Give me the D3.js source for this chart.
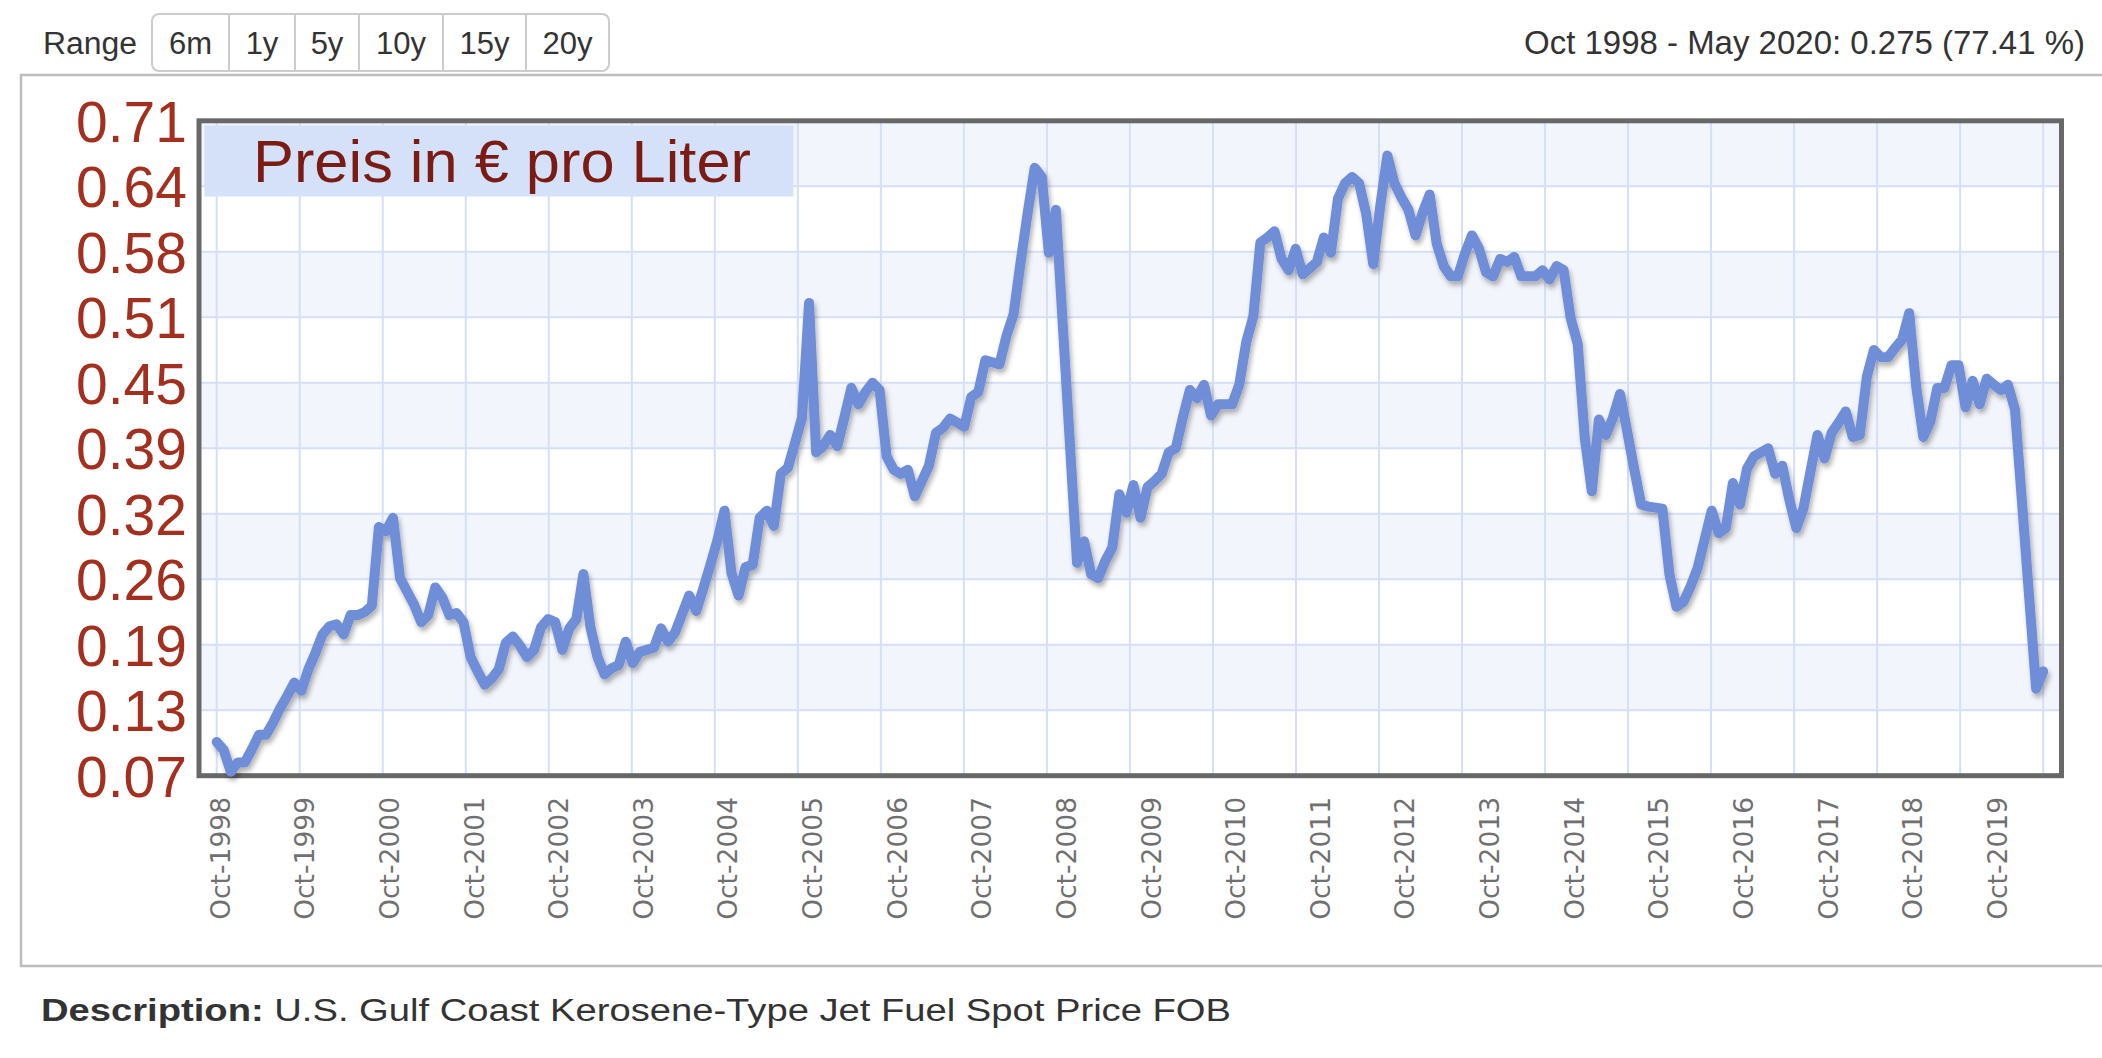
<!DOCTYPE html>
<html>
<head>
<meta charset="utf-8">
<script src="https://cdn.jsdelivr.net/npm/d3@7"></script>
<style>
  html, body { margin: 0; padding: 0; background: #ffffff; }
  svg { display: block; }
</style>
</head>
<body>
<svg id="chart" width="2102" height="1058"></svg>
<script>
// ---------------- DATA ----------------
// Monthly price in EUR per litre, Oct 1998 .. May 2020 (index 0 = Oct 1998)
const prices = [
  0.103, 0.095, 0.074, 0.083, 0.083, 0.096, 0.110, 0.110, 0.122, 0.136,
  0.148, 0.161, 0.153, 0.174, 0.190, 0.208, 0.216, 0.218, 0.208, 0.227,
  0.227, 0.230, 0.236, 0.313, 0.309, 0.322, 0.263, 0.250, 0.237, 0.220,
  0.227, 0.254, 0.244, 0.227, 0.229, 0.220, 0.186, 0.172, 0.159, 0.165,
  0.174, 0.200, 0.206, 0.197, 0.186, 0.193, 0.215, 0.223, 0.220, 0.193,
  0.214, 0.223, 0.267, 0.215, 0.186, 0.169, 0.175, 0.178, 0.201, 0.180,
  0.191, 0.193, 0.195, 0.214, 0.201, 0.210, 0.228, 0.246, 0.231, 0.253,
  0.276, 0.300, 0.329, 0.268, 0.246, 0.274, 0.276, 0.322, 0.329, 0.314,
  0.365, 0.371, 0.395, 0.420, 0.532, 0.386, 0.392, 0.403, 0.392, 0.420,
  0.449, 0.433, 0.445, 0.454, 0.447, 0.382, 0.369, 0.365, 0.369, 0.343,
  0.358, 0.373, 0.405, 0.410, 0.419, 0.415, 0.411, 0.440, 0.445, 0.476,
  0.474, 0.472, 0.500, 0.521, 0.572, 0.620, 0.664, 0.655, 0.581, 0.623,
  0.508, 0.393, 0.278, 0.299, 0.267, 0.263, 0.280, 0.293, 0.345, 0.327,
  0.354, 0.322, 0.352, 0.358, 0.365, 0.386, 0.390, 0.420, 0.447, 0.439,
  0.452, 0.422, 0.433, 0.433, 0.433, 0.452, 0.494, 0.519, 0.591, 0.596,
  0.602, 0.575, 0.564, 0.585, 0.560, 0.566, 0.572, 0.596, 0.581, 0.634,
  0.649, 0.655, 0.649, 0.619, 0.570, 0.627, 0.676, 0.649, 0.635, 0.623,
  0.598, 0.620, 0.638, 0.590, 0.568, 0.558, 0.558, 0.580, 0.598, 0.585,
  0.562, 0.558, 0.575, 0.572, 0.577, 0.558, 0.558, 0.558, 0.564, 0.555,
  0.568, 0.564, 0.517, 0.492, 0.400, 0.348, 0.418, 0.403, 0.420, 0.443,
  0.407, 0.370, 0.335, 0.333, 0.332, 0.331, 0.267, 0.235, 0.240, 0.255,
  0.273, 0.301, 0.329, 0.307, 0.312, 0.356, 0.335, 0.370, 0.382, 0.386,
  0.390, 0.365, 0.373, 0.340, 0.312, 0.331, 0.367, 0.403, 0.380, 0.405,
  0.415, 0.426, 0.401, 0.403, 0.460, 0.486, 0.479, 0.479, 0.488, 0.496,
  0.522, 0.450, 0.401, 0.416, 0.449, 0.449, 0.471, 0.471, 0.430, 0.456,
  0.433, 0.458, 0.452, 0.447, 0.452, 0.428, 0.337, 0.246, 0.155, 0.172
];

const xTickLabels = [
  "Oct-1998","Oct-1999","Oct-2000","Oct-2001","Oct-2002","Oct-2003",
  "Oct-2004","Oct-2005","Oct-2006","Oct-2007","Oct-2008","Oct-2009",
  "Oct-2010","Oct-2011","Oct-2012","Oct-2013","Oct-2014","Oct-2015",
  "Oct-2016","Oct-2017","Oct-2018","Oct-2019"
];
const yTickValues = [0.07, 0.134, 0.198, 0.262, 0.326, 0.39, 0.454, 0.518, 0.582, 0.646, 0.71];
const yTickLabels = ["0.07","0.13","0.19","0.26","0.32","0.39","0.45","0.51","0.58","0.64","0.71"];

const rangeButtons = ["6m","1y","5y","10y","15y","20y"];
const rangeLabel = "Range";
const headerText = "Oct 1998 - May 2020: 0.275 (77.41 %)";
const titleText = "Preis in € pro Liter";
const descLabel = "Description:";
const descText = "U.S. Gulf Coast Kerosene-Type Jet Fuel Spot Price FOB";

// ---------------- DRAWING ----------------
const svg = d3.select("#chart");
const FONT = "'Liberation Sans', Arial, Helvetica, sans-serif";

const plot = { left: 199, right: 2061.5, top: 120.8, bottom: 775.7 };
const x = d3.scaleLinear().domain([-2.51, 261.6]).range([plot.left, plot.right]);
const y = d3.scaleLinear().domain([0.07, 0.71]).range([plot.bottom, plot.top]);

const defs = svg.append("defs");
const f = defs.append("filter").attr("id", "shadow")
  .attr("x", "-5%").attr("y", "-10%").attr("width", "110%").attr("height", "130%");
f.append("feDropShadow").attr("dx", 2).attr("dy", 4).attr("stdDeviation", 2.5)
  .attr("flood-color", "#000").attr("flood-opacity", 0.3);

// ----- header -----
svg.append("text").text(rangeLabel)
  .attr("x", 43).attr("y", 54)
  .attr("font-family", FONT).attr("font-size", 31).attr("fill", "#333")
  .attr("textLength", 94).attr("lengthAdjust", "spacingAndGlyphs");

const btnEdges = [152, 229, 295, 359, 443, 526, 609];
svg.append("rect").attr("x", btnEdges[0]).attr("y", 14)
  .attr("width", btnEdges[6] - btnEdges[0]).attr("height", 57)
  .attr("rx", 7).attr("fill", "#fff").attr("stroke", "#cccccc").attr("stroke-width", 2);
rangeButtons.forEach((b, i) => {
  if (i > 0) {
    svg.append("line").attr("x1", btnEdges[i]).attr("x2", btnEdges[i])
      .attr("y1", 14).attr("y2", 71).attr("stroke", "#cccccc").attr("stroke-width", 2);
  }
  svg.append("text").text(b)
    .attr("x", (btnEdges[i] + btnEdges[i + 1]) / 2).attr("y", 54)
    .attr("text-anchor", "middle")
    .attr("font-family", FONT).attr("font-size", 31).attr("fill", "#333");
});

svg.append("text").text(headerText)
  .attr("x", 2085).attr("y", 54).attr("text-anchor", "end")
  .attr("font-family", FONT).attr("font-size", 34).attr("fill", "#333")
  .attr("textLength", 561).attr("lengthAdjust", "spacingAndGlyphs");

// ----- outer frame -----
svg.append("rect").attr("x", 21).attr("y", 75).attr("width", 2120).attr("height", 891)
  .attr("fill", "none").attr("stroke", "#bdbdbd").attr("stroke-width", 2.5);

// ----- plot background bands -----
const bandsG = svg.append("g");
for (let i = 0; i < yTickValues.length - 1; i++) {
  bandsG.append("rect")
    .attr("x", plot.left).attr("width", plot.right - plot.left)
    .attr("y", y(yTickValues[i + 1])).attr("height", y(yTickValues[i]) - y(yTickValues[i + 1]))
    .attr("fill", i % 2 === 1 ? "#f3f5fc" : "#ffffff");
}

// ----- gridlines -----
const gridG = svg.append("g").attr("stroke", "#d5dff6").attr("stroke-width", 2);
yTickValues.slice(1, -1).forEach(v => {
  gridG.append("line").attr("x1", plot.left).attr("x2", plot.right)
    .attr("y1", y(v)).attr("y2", y(v));
});
d3.range(0, 23).map(j => j * (prices.length - 1) / 22).forEach(m => {
  gridG.append("line").attr("x1", x(m)).attr("x2", x(m))
    .attr("y1", plot.top).attr("y2", plot.bottom);
});

// ----- title box -----
svg.append("rect").attr("x", 204.5).attr("y", 125.5).attr("width", 589).attr("height", 71)
  .attr("fill", "#d4e1f9");
svg.append("text").text(titleText)
  .attr("x", 253).attr("y", 181.5)
  .attr("font-family", FONT).attr("font-size", 59).attr("fill", "#7a1c14")
  .attr("textLength", 498).attr("lengthAdjust", "spacingAndGlyphs");

// ----- plot border -----
svg.append("rect").attr("x", plot.left).attr("y", plot.top)
  .attr("width", plot.right - plot.left).attr("height", plot.bottom - plot.top)
  .attr("fill", "none").attr("stroke", "#686868").attr("stroke-width", 5);

// ----- line -----
const line = d3.line().x((d, i) => x(i)).y(d => y(d));
svg.append("path").datum(prices)
  .attr("d", line)
  .attr("fill", "none")
  .attr("stroke", "#6f8ed8")
  .attr("stroke-width", 10)
  .attr("stroke-linejoin", "round")
  .attr("stroke-linecap", "round")
  .attr("filter", "url(#shadow)");

// ----- y axis -----
const yAxis = d3.axisLeft(y)
  .tickValues(yTickValues)
  .tickFormat((d, i) => yTickLabels[i])
  .tickSize(0).tickPadding(0);
const yg = svg.append("g").attr("transform", "translate(187,0)").call(yAxis);
yg.select(".domain").remove();
yg.selectAll("text")
  .attr("font-family", FONT).attr("font-size", 57).attr("fill", "#a3301f")
  .attr("dy", "0.36em");

// ----- x axis -----
const xAxis = d3.axisBottom(x)
  .tickValues(xTickLabels.map((_, i) => i * 12))
  .tickFormat((d, i) => xTickLabels[i])
  .tickSize(0).tickPadding(0);
const xg = svg.append("g").attr("transform", "translate(3,797)").call(xAxis);
xg.select(".domain").remove();
xg.selectAll("text")
  .attr("transform", "rotate(-90)")
  .attr("text-anchor", "end")
  .attr("x", 0).attr("y", 0).attr("dy", "0.36em")
  .attr("font-family", "'DejaVu Sans', Verdana, sans-serif")
  .attr("font-size", 26.5).attr("fill", "#707070");

// ----- description -----
const desc = svg.append("text").attr("x", 41).attr("y", 1021)
  .attr("font-family", FONT).attr("font-size", 31).attr("fill", "#333")
  .attr("textLength", 1190).attr("lengthAdjust", "spacingAndGlyphs");
desc.append("tspan").attr("font-weight", "bold").text(descLabel);
desc.append("tspan").text(" " + descText);
</script>
</body>
</html>
